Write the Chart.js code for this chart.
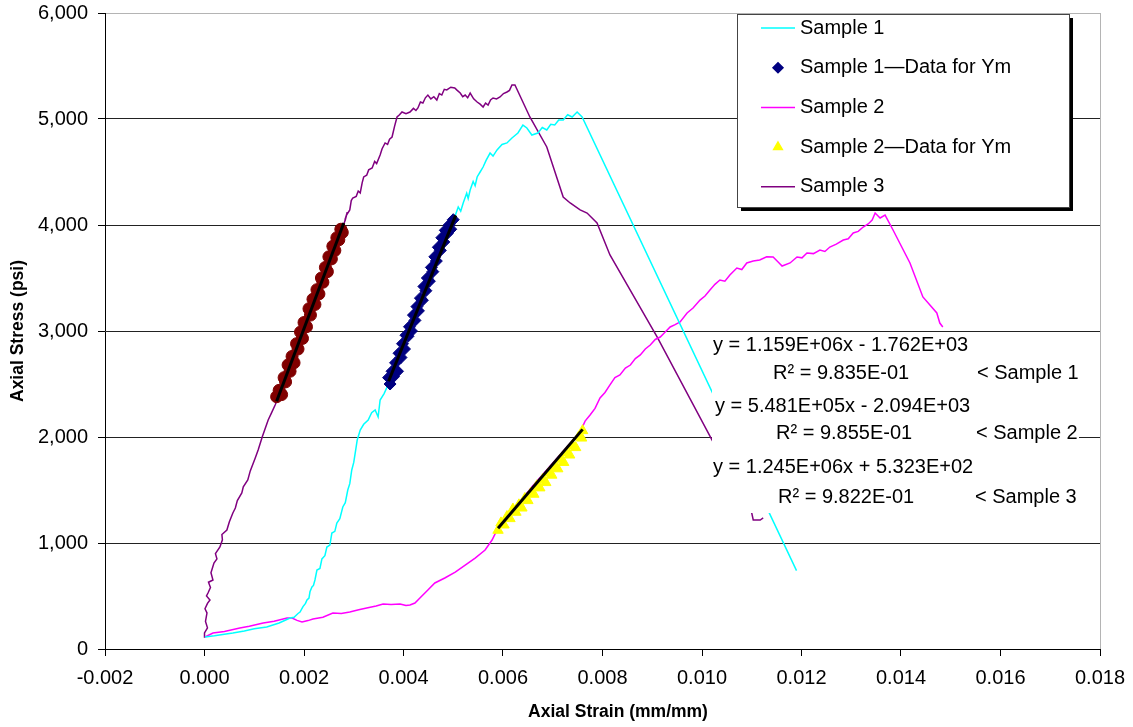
<!DOCTYPE html>
<html>
<head>
<meta charset="utf-8">
<script src="https://cdn.jsdelivr.net/npm/chart.js@4"></script>
<style>
  html, body { margin: 0; padding: 0; background: #fff; }
  #wrap { width: 1133px; height: 727px; }
</style>
</head>
<body>
<div id="wrap"><canvas id="stressChart" width="1133" height="727"></canvas></div>
<script>
// --- Data (strain in mm/mm, stress in psi) ---
const sample1Strain = [0.00001, 0.0002, 0.0004, 0.00057, 0.0008, 0.001, 0.00125, 0.0015, 0.00172, 0.0018, 0.00188, 0.00192,
  0.00198, 0.00203, 0.00206, 0.0021, 0.00212, 0.00216, 0.00219, 0.00222, 0.00226, 0.00232, 0.00236, 0.00242, 0.00246,
  0.00252, 0.00256, 0.00262, 0.00266, 0.00272, 0.00278, 0.00283, 0.00288, 0.00292, 0.00296, 0.003, 0.00304, 0.00307,
  0.00313, 0.0032, 0.00329, 0.00336, 0.00343, 0.00349, 0.00353, 0.00361, 0.00367, 0.0037, 0.0044, 0.00503, 0.0051,
  0.00515, 0.0052, 0.00527, 0.0053, 0.00534, 0.0054, 0.00544, 0.00548, 0.00554, 0.0056, 0.00566, 0.00574, 0.0058,
  0.00588, 0.00598, 0.00608, 0.00618, 0.0063, 0.0064, 0.00648, 0.00658, 0.0067, 0.00679, 0.00688, 0.00696, 0.00704,
  0.00712, 0.00721, 0.0073, 0.00739, 0.00749, 0.00759, 0.0119];
const sample1Stress = [113, 125, 140, 151, 170, 190, 208, 245, 292, 300, 335, 349,
  400, 430, 462, 480, 540, 585, 600, 651, 745, 760, 850, 880, 962,
  980, 1094, 1110, 1189, 1230, 1340, 1380, 1500, 1560, 1689, 1760, 1880, 1972,
  2066, 2120, 2160, 2230, 2255, 2189, 2349, 2410, 2472, 2530, 3340, 4075, 4170,
  4130, 4208, 4300, 4250, 4330, 4410, 4370, 4453, 4500, 4547, 4610, 4679, 4650,
  4708, 4760, 4774, 4821, 4868, 4943, 4915, 4849, 4868, 4920, 4896, 4950, 4943,
  4990, 4991, 5040, 5019, 5066, 5019, 740];

const sample1YmStrain = [0.0037, 0.00373, 0.00377, 0.0038, 0.00384, 0.00388, 0.00391, 0.00395, 0.00398, 0.00402, 0.00405,
  0.00409, 0.00412, 0.00416, 0.0042, 0.00423, 0.00427, 0.0043, 0.00434, 0.00438, 0.00441, 0.00445, 0.00448, 0.00452,
  0.00456, 0.00459, 0.00463, 0.00466, 0.0047, 0.00474, 0.00477, 0.00481, 0.00484, 0.00488, 0.00492, 0.00495, 0.005];
const sample1YmStress = [2560, 2500, 2620, 2570, 2700, 2620, 2790, 2750, 2880, 2830, 2960,
  2950, 3040, 3000, 3150, 3100, 3230, 3190, 3310, 3290, 3420, 3380, 3500, 3470,
  3600, 3560, 3700, 3660, 3790, 3760, 3880, 3840, 3950, 3920, 4000, 3960, 4050];

const sample2Strain = [0.00001, 0.00017, 0.0004, 0.00071, 0.0009, 0.00118, 0.0014, 0.00166, 0.00176, 0.00186, 0.00196,
  0.00208, 0.00218, 0.00238, 0.00258, 0.00275, 0.00292, 0.0031, 0.00326, 0.00345, 0.00359, 0.00375, 0.00393, 0.00405,
  0.00413, 0.00423, 0.00433, 0.00449, 0.00463, 0.00483, 0.00504, 0.00524, 0.00544, 0.00564, 0.00578, 0.00588, 0.0066,
  0.00755, 0.00765, 0.00775, 0.00785, 0.00795, 0.00805, 0.00815, 0.00825, 0.00835, 0.00846, 0.00856, 0.00866, 0.00876,
  0.00886, 0.00896, 0.00906, 0.00916, 0.00926, 0.00936, 0.00946, 0.00956, 0.0097, 0.00982, 0.00996, 0.01006, 0.01016,
  0.01026, 0.01036, 0.01046, 0.01056, 0.0107, 0.0108, 0.0109, 0.01103, 0.01116, 0.0113, 0.01143, 0.01153, 0.01161,
  0.01177, 0.01191, 0.01201, 0.01211, 0.01224, 0.01237, 0.01247, 0.01257, 0.0127, 0.01284, 0.01294, 0.01304, 0.01314,
  0.01324, 0.01334, 0.01342, 0.01348, 0.01358, 0.01368, 0.01384, 0.01418, 0.01444, 0.01472, 0.01478, 0.01484];
const sample2Stress = [113, 151, 165, 198, 215, 245, 262, 292, 292, 270, 255,
  268, 283, 300, 340, 335, 349, 370, 387, 405, 425, 420, 425, 410,
  415, 434, 481, 557, 623, 670, 726, 792, 858, 934, 1028, 1123, 1540,
  2047, 2150, 2208, 2270, 2368, 2420, 2491, 2560, 2585, 2650, 2679, 2740, 2774,
  2830, 2868, 2920, 2943, 2990, 3038, 3060, 3085, 3170, 3217, 3292, 3330, 3387,
  3440, 3481, 3470, 3528, 3594, 3580, 3642, 3660, 3670, 3700, 3698, 3651, 3613,
  3642, 3698, 3690, 3736, 3730, 3764, 3750, 3792, 3820, 3858, 3870, 3925, 3940,
  3981, 4010, 4047, 4113, 4066, 4094, 3953, 3642, 3321, 3170, 3075, 3038];

const sample2YmStrain = [0.0059, 0.00596, 0.00602, 0.00608, 0.00614, 0.0062, 0.00626, 0.00632, 0.00638, 0.00644, 0.0065,
  0.00656, 0.00662, 0.00668, 0.00674, 0.0068, 0.00686, 0.00692, 0.00698, 0.00704, 0.0071, 0.00716, 0.00722, 0.00728,
  0.00734, 0.0074, 0.00746, 0.00752, 0.00758, 0.0076];
const sample2YmStress = [1120, 1190, 1170, 1250, 1230, 1320, 1290, 1360, 1330, 1420, 1400,
  1470, 1460, 1540, 1520, 1600, 1570, 1660, 1640, 1720, 1700, 1790, 1760, 1850,
  1830, 1920, 1900, 2000, 1990, 2060];

const sample3Strain = [0.00001, 0.0, 0.00006, 0.00002, 0.00005, 0.00001, 0.00006, 0.00011, 0.00004, 0.00007, 0.00012,
  0.00008, 0.00017, 0.00013, 0.00019, 0.00025, 0.00022, 0.00031, 0.00036, 0.00035, 0.00045, 0.0005, 0.00057, 0.00062,
  0.00066, 0.00075, 0.00078, 0.00087, 0.00092, 0.00102, 0.00108, 0.00116, 0.00122, 0.00128, 0.00134, 0.00142, 0.0021,
  0.00283, 0.00287, 0.00285, 0.00292, 0.00295, 0.00298, 0.00305, 0.00309, 0.00313, 0.00317, 0.0032, 0.00326, 0.0033,
  0.00337, 0.00342, 0.00346, 0.00353, 0.00357, 0.00363, 0.00368, 0.00372, 0.00377, 0.00382, 0.00387, 0.00392, 0.00397,
  0.00405, 0.00413, 0.0042, 0.00425, 0.00429, 0.00434, 0.00439, 0.00444, 0.00449, 0.00455, 0.00461, 0.00467, 0.00472,
  0.00477, 0.00482, 0.00487, 0.00495, 0.00503, 0.00508, 0.00514, 0.00519, 0.00524, 0.00529, 0.00534, 0.00541, 0.00548,
  0.00554, 0.0056, 0.00565, 0.0057, 0.00575, 0.0058, 0.00587, 0.00594, 0.00601, 0.00608, 0.00613, 0.00618, 0.00624,
  0.00654, 0.00688, 0.00721, 0.00735, 0.00755, 0.00769, 0.00789, 0.00815, 0.0091, 0.0102, 0.011, 0.01103, 0.01117,
  0.01123];
const sample3Stress = [113, 151, 200, 260, 340, 380, 430, 462, 500, 528, 580,
  630, 651, 720, 811, 850, 900, 962, 1030, 1080, 1123, 1200, 1283, 1330,
  1400, 1472, 1530, 1594, 1680, 1802, 1880, 2000, 2080, 2160, 2220, 2302, 3150,
  4047, 4120, 4090, 4142, 4230, 4255, 4270, 4320, 4302, 4400, 4453, 4470, 4520,
  4538, 4600, 4580, 4660, 4720, 4774, 4760, 4810, 4830, 4930, 5019, 5040, 5066,
  5050, 5066, 5100, 5080, 5104, 5160, 5151, 5200, 5226, 5190, 5210, 5179, 5240,
  5226, 5280, 5274, 5300, 5292, 5270, 5245, 5210, 5226, 5200, 5245, 5190, 5160,
  5140, 5113, 5150, 5132, 5180, 5198, 5190, 5208, 5240, 5255, 5270, 5321, 5321,
  5019, 4736, 4264, 4208, 4142, 4113, 4019, 3717, 2943, 1972, 1283, 1217, 1217,
  1236];

const sample3YmStrain = [0.00145, 0.0015, 0.00155, 0.0016, 0.00163, 0.00168, 0.00172, 0.00176, 0.0018, 0.00185, 0.00188,
  0.00193, 0.00197, 0.002, 0.00205, 0.0021, 0.00213, 0.00218, 0.00222, 0.00226, 0.0023, 0.00235, 0.00238, 0.00243,
  0.00247, 0.0025, 0.00255, 0.00258, 0.00262, 0.00266, 0.0027, 0.00274, 0.00277];
const sample3YmStress = [2380, 2440, 2400, 2560, 2520, 2680, 2620, 2760, 2700, 2880, 2830,
  2990, 2930, 3080, 3040, 3210, 3150, 3300, 3250, 3390, 3350, 3500, 3460, 3600,
  3560, 3700, 3680, 3800, 3760, 3880, 3860, 3960, 3930];

// fitted lines (end points of the linear trendlines)
const trend1Strain = [0.0037, 0.00505];
const trend1Stress = [2526, 4091];
const trend2Strain = [0.0059, 0.0076];
const trend2Stress = [1140, 2072];
const trend3Strain = [0.00145, 0.0028];
const trend3Stress = [2337, 4018];

const xTicks = [-0.002, 0.018, 0.002]; // min, max, step
const yTicks = [0, 6000, 1000];

const equations = [
  { eq: 'y = 1.159E+06x - 1.762E+03', r2: 'R² = 9.835E-01', tag: '< Sample 1' },
  { eq: 'y = 5.481E+05x - 2.094E+03', r2: 'R² = 9.855E-01', tag: '< Sample 2' },
  { eq: 'y = 1.245E+06x + 5.323E+02', r2: 'R² = 9.822E-01', tag: '< Sample 3' }
];

const FONT = "'Liberation Sans', Arial, sans-serif";

function toPoints(xs, ys) {
  return xs.map((x, i) => ({ x: x, y: ys[i] }));
}

function lineSet(label, xs, ys, color) {
  return {
    label: label, data: toPoints(xs, ys), showLine: true,
    borderColor: color, backgroundColor: color, borderWidth: 1.5,
    pointRadius: 0, tension: 0, order: 3, inLegend: true
  };
}

function markerSet(label, xs, ys, color, style, radius, inLegend) {
  return {
    label: label, data: toPoints(xs, ys), showLine: false,
    borderColor: color, backgroundColor: color, borderWidth: 1,
    pointStyle: style, pointRadius: radius, order: 2, inLegend: inLegend
  };
}

function trendSet(xs, ys) {
  return {
    label: 'trend', data: toPoints(xs, ys), showLine: true,
    borderColor: '#000', borderWidth: 3, pointRadius: 0, order: 1, inLegend: false
  };
}

const datasets = [
  lineSet('Sample 1', sample1Strain, sample1Stress, '#00FFFF'),
  markerSet('Sample 1\u2014Data for Ym', sample1YmStrain, sample1YmStress, '#000080', 'rectRot', 6, true),
  lineSet('Sample 2', sample2Strain, sample2Stress, '#FF00FF'),
  markerSet('Sample 2\u2014Data for Ym', sample2YmStrain, sample2YmStress, '#FFFF00', 'triangle', 6, true),
  lineSet('Sample 3', sample3Strain, sample3Stress, '#800080'),
  markerSet('Sample 3\u2014Data for Ym', sample3YmStrain, sample3YmStress, '#800000', 'circle', 6, false),
  trendSet(trend1Strain, trend1Stress),
  trendSet(trend2Strain, trend2Stress),
  trendSet(trend3Strain, trend3Stress)
];

// --- Extra drawing: plot border, equation labels, legend box, axis titles ---
const overlayPlugin = {
  id: 'overlay',
  beforeDatasetsDraw(chart) {
    const { ctx, chartArea: a } = chart;
    ctx.save();
    ctx.strokeStyle = '#b4b4b4';
    ctx.lineWidth = 1;
    ctx.beginPath();
    ctx.moveTo(a.right + 0.5, a.top);
    ctx.lineTo(a.right + 0.5, a.bottom);
    ctx.stroke();
    ctx.restore();
  },
  afterDatasetsDraw(chart) {
    const ctx = chart.ctx;
    ctx.save();

    // white text boxes of the trendline labels
    ctx.fillStyle = '#fff';
    ctx.fillRect(712, 332, 264, 181);
    ctx.fillRect(975, 352, 104, 160);

    ctx.fillStyle = '#000';
    ctx.font = '20px ' + FONT;
    ctx.textBaseline = 'middle';
    ctx.textAlign = 'left';
    const eqRows = [[713, 345, 773, 373, 977], [715, 406, 776, 433, 976], [713, 467, 778, 497, 975]];
    equations.forEach((e, i) => {
      const r = eqRows[i];
      ctx.fillText(e.eq, r[0], r[1]);
      ctx.fillText(e.r2, r[2], r[3]);
      ctx.fillText(e.tag, r[4], r[3]);
    });

    // legend
    const lx = 737, ly = 14, lw = 332, lh = 193;
    ctx.fillStyle = '#000';
    ctx.fillRect(lx + 4, ly + 4, lw, lh);
    ctx.fillStyle = '#fff';
    ctx.fillRect(lx, ly, lw, lh);
    ctx.strokeStyle = '#444';
    ctx.lineWidth = 1;
    ctx.strokeRect(lx + 0.5, ly + 0.5, lw, lh);

    const items = chart.data.datasets.filter(d => d.inLegend);
    items.forEach((d, i) => {
      const y = 28 + i * 39.7;
      if (d.showLine) {
        ctx.strokeStyle = d.borderColor;
        ctx.lineWidth = 1.5;
        ctx.beginPath();
        ctx.moveTo(761, y);
        ctx.lineTo(795, y);
        ctx.stroke();
      } else {
        ctx.fillStyle = d.backgroundColor;
        ctx.strokeStyle = d.borderColor;
        Chart.helpers.drawPoint(ctx, { pointStyle: d.pointStyle, radius: 5, rotation: 0, borderWidth: 1 }, 778, y);
      }
      ctx.fillStyle = '#000';
      ctx.fillText(d.label, 800, y);
    });
    ctx.restore();
  },
  afterDraw(chart) {
    const ctx = chart.ctx;
    ctx.save();
    ctx.fillStyle = '#000';
    ctx.font = 'bold 17.5px ' + FONT;
    ctx.textAlign = 'center';
    ctx.textBaseline = 'middle';
    ctx.fillText('Axial Strain (mm/mm)', 618, 712);
    ctx.translate(18, 331);
    ctx.rotate(-Math.PI / 2);
    ctx.fillText('Axial Stress (psi)', 0, 0);
    ctx.restore();
  }
};

const ctx = document.getElementById('stressChart').getContext('2d');
new Chart(ctx, {
  type: 'scatter',
  data: { datasets: datasets },
  options: {
    responsive: false,
    animation: false,
    layout: { padding: { top: 13, right: 33, bottom: 0, left: 0 } },
    plugins: { legend: { display: false }, tooltip: { enabled: false } },
    scales: {
      x: {
        type: 'linear', min: xTicks[0], max: xTicks[1],
        ticks: {
          stepSize: xTicks[2], padding: 10, color: '#000',
          font: { family: FONT, size: 20 },
          callback: v => (Math.abs(v) < 1e-9 ? 0 : v).toFixed(3)
        },
        grid: { drawOnChartArea: false, tickLength: 7, tickColor: '#000' },
        border: { color: '#000', width: 1 },
        afterFit: s => { s.height = 78; s.paddingLeft = 0; s.paddingRight = 0; }
      },
      y: {
        type: 'linear', min: yTicks[0], max: yTicks[1],
        ticks: {
          stepSize: yTicks[2], padding: 10, color: '#000',
          font: { family: FONT, size: 20 }
        },
        grid: {
          color: c => (c.tick && c.tick.value === yTicks[1]) ? '#b4b4b4' : '#222',
          lineWidth: 1, tickLength: 7, tickColor: '#000'
        },
        border: { color: '#000', width: 1 },
        afterFit: s => { s.width = 105; s.paddingTop = 0; s.paddingBottom = 0; }
      }
    }
  },
  plugins: [overlayPlugin]
});
</script>
</body>
</html>
